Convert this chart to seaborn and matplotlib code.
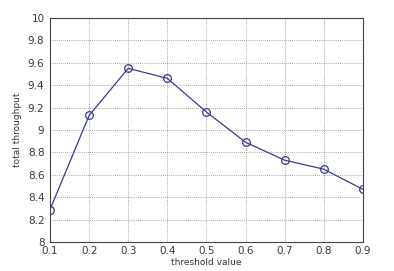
import matplotlib
matplotlib.use("Agg")
import matplotlib.pyplot as plt
import seaborn as sns
import pandas as pd

threshold = [0.1, 0.2, 0.3, 0.4, 0.5, 0.6, 0.7, 0.8, 0.9]
throughput = [8.29, 9.13, 9.55, 9.46, 9.16, 8.89, 8.73, 8.65, 8.47]
xticks = [0.1, 0.2, 0.3, 0.4, 0.5, 0.6, 0.7, 0.8, 0.9]
yticks = [8, 8.2, 8.4, 8.6, 8.8, 9, 9.2, 9.4, 9.6, 9.8, 10]
ytick_labels = ["8", "8.2", "8.4", "8.6", "8.8", "9", "9.2", "9.4", "9.6", "9.8", "10"]

sns.set_style("white")
plt.rcParams['font.family'] = ['DejaVu Sans']

df = pd.DataFrame({"threshold value": threshold, "total throughput": throughput})

fig = plt.figure(figsize=(3.94, 2.71), dpi=100)
ax = fig.add_axes([0.127, 0.107, 0.794, 0.827])
sns.lineplot(data=df, x="threshold value", y="total throughput", ax=ax,
             color="#3a3a90", linewidth=0.9, marker="o", markersize=5.5,
             markerfacecolor="none", markeredgecolor="#3a3a90", markeredgewidth=0.9)
ax.set_xlim(0.1, 0.9)
ax.set_ylim(8, 10)
ax.set_xticks(xticks)
ax.set_xticklabels([f"{v:g}" for v in xticks])
ax.set_yticks(yticks)
ax.set_yticklabels(ytick_labels)
ax.grid(True, linestyle=(0, (1, 1.5)), color="#8a8a8a", linewidth=0.6)
ax.tick_params(axis="both", direction="in", length=3, labelsize=7.5, colors="#3a3a3a", width=0.6)
ax.tick_params(axis="x", pad=3)
ax.tick_params(axis="y", pad=4)
for s in ax.spines.values():
    s.set_color("#444444")
    s.set_linewidth(0.8)
ax.set_xlabel("threshold value", fontsize=6.5, color="#333333", labelpad=1)
ax.set_ylabel("total throughput", fontsize=6.5, color="#333333", labelpad=4)
fig.savefig("out.png", dpi=100, facecolor="white")
